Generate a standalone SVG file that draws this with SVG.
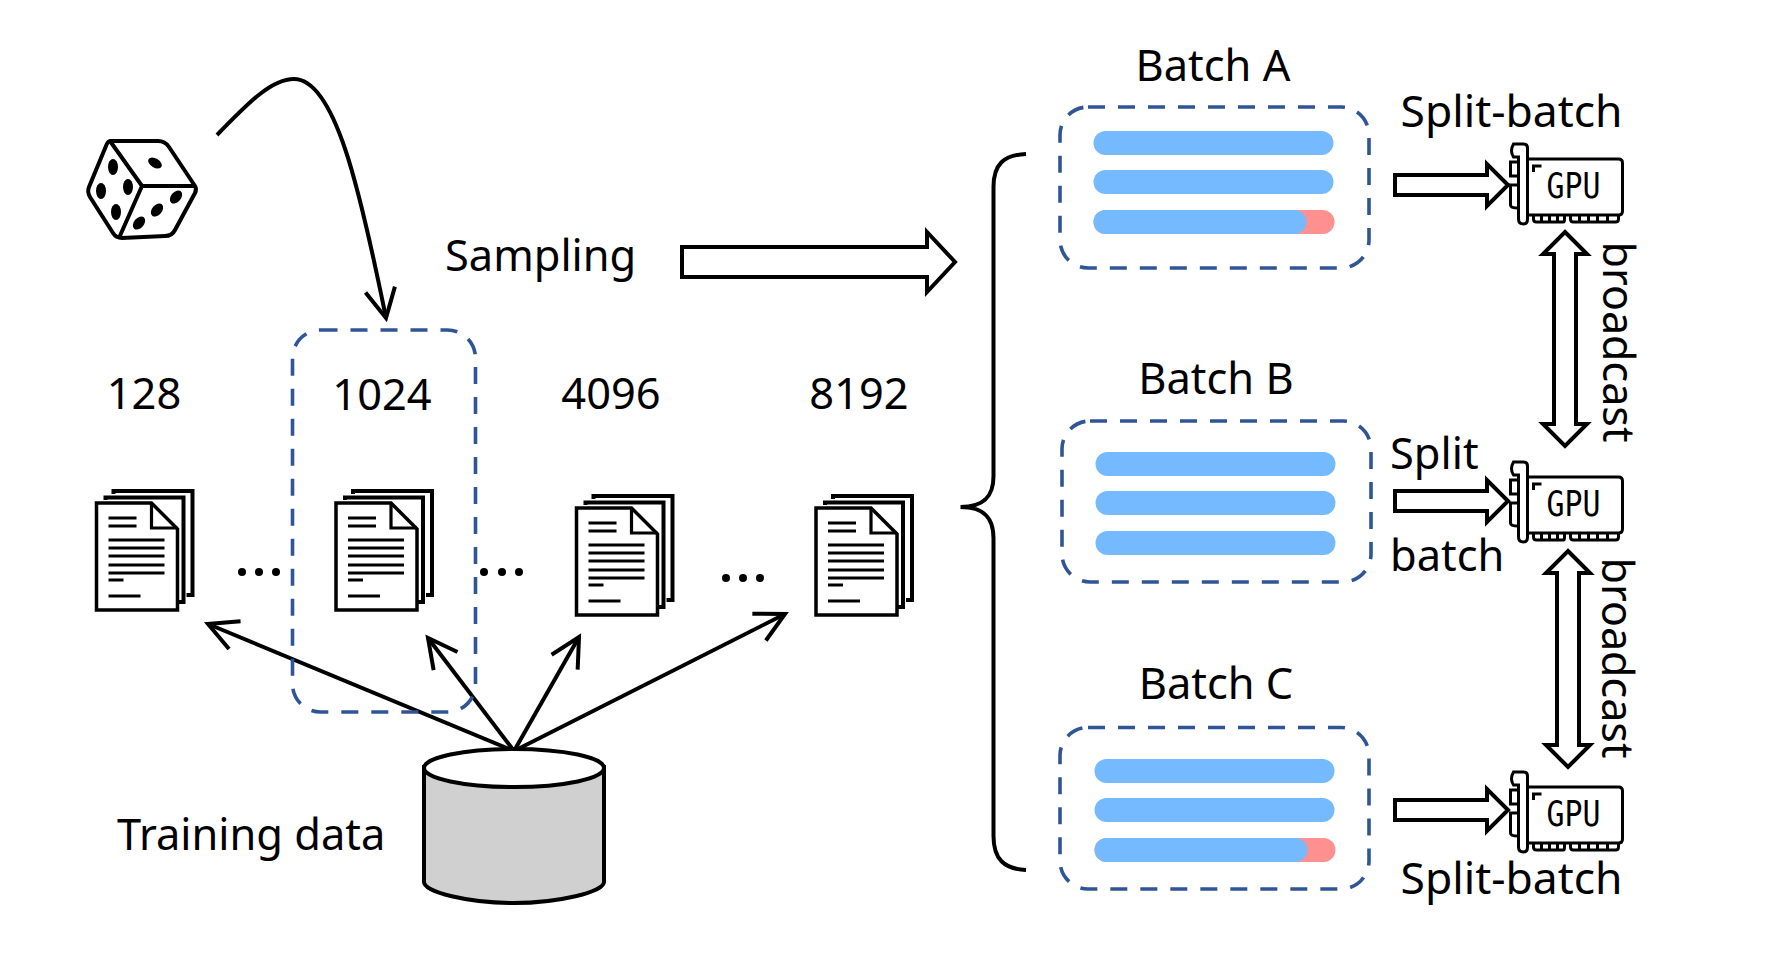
<svg xmlns="http://www.w3.org/2000/svg" xmlns:xlink="http://www.w3.org/1999/xlink" width="1777" height="977" viewBox="0 0 1777 977">
<style>
text{font-family:"Noto Sans","Open Sans","Liberation Sans",sans-serif;font-size:43.4px;fill:#000}
.m{text-anchor:middle}
.sb{font-size:44.4px}
.bc{font-size:43px}
.dash{fill:none;stroke:#2F5597;stroke-width:3.6;stroke-dasharray:17 13}
.l{fill:none;stroke:#000;stroke-width:4}
.ba{fill:#fff;stroke:#000;stroke-width:4;stroke-linejoin:miter}
.blue{fill:#75BAFF}
.red{fill:#FF9090}
.pip{fill:#000}
</style>
<defs>
<marker id="ah" markerUnits="userSpaceOnUse" markerWidth="70" markerHeight="70" refX="35" refY="35" orient="auto" viewBox="0 0 70 70">
<path d="M6,20 L35,35 L6,50" fill="none" stroke="#000" stroke-width="4"/>
</marker>
<g id="doc">
<path class="l" d="M9,-3 V-5.500 H87 V99 H82 M17,-9 V-12 H96 V92 H90" stroke-width="3.5"/>
<path d="M0,0 H55 L81,26 V107 H0 Z" fill="#fff" stroke="#000" stroke-width="3.500"/>
<path fill="none" stroke="#000" stroke-width="3.200" d="M55,0 V25 H81 M12,15 H40 M12,23 H40 M12,37 H68 M12,45 H68 M12,53 H68 M12,62 H68 M12,70 H68 M12,77 H27 M12,93 H44"/>
</g>
<g id="gpu" fill="none" stroke="#000" stroke-width="3">
<path d="M-9,-2 H-14 Q-18,-8 -14,-15 H-4 Q0,-15 0,-11 V60 Q0,65 -4,65 Q-9,65 -9,60 Z"/>
<path d="M-9,3 H-17 V17 H-9 M-9,26 H-17 V46 Q-17,49 -9,49"/>
<path d="M0,0 H91 Q95,0 95,4 V52 Q95,56 91,56 H0"/>
<path d="M6,56 V60 Q6,63 9,63 H36 Q37,63 37,60 V56 M43,56 V60 Q43,63 46,63 H88 Q91,63 91,60 V56 M14,56 V63 M22,56 V63 M30,56 V63 M52,56 V63 M61,56 V63 M70,56 V63 M80,56 V63"/>
<path d="M6,13 V7 H14"/>
<text x="46" y="39" class="m" stroke="none" style="font-family:'DejaVu Sans Mono',monospace;font-size:36px" textLength="54" lengthAdjust="spacingAndGlyphs">GPU</text>
</g>
</defs>

<g id="connectors">
<path class="l" d="M217,135 C250,101 272,79 294,79 C335,79 360,190 386,318" marker-end="url(#ah)"/>
<path class="l" d="M514,751 L208,624" marker-end="url(#ah)"/>
<path class="l" d="M514,751 L428,638" marker-end="url(#ah)"/>
<path class="l" d="M514,751 L579,637" marker-end="url(#ah)"/>
<path class="l" d="M514,751 L785,614" marker-end="url(#ah)"/>
<path class="ba" d="M682,247 H927 V232 L955,262 L927,292 V277 H682 Z"/>
<path class="l" d="M1026,154 C1004,155 993.500,164 993.500,187 V476 C993.500,496 984.500,507 960.500,507 C984.500,507 993.500,518 993.500,538 V836 C993.500,859 1004,869 1026,870"/>
<path class="ba" d="M1395,175 H1487 V164 L1508,185 L1487,206 V195 H1395 Z"/>
<path class="ba" d="M1395,491 H1487 V480 L1508,501 L1487,522 V511 H1395 Z"/>
<path class="ba" d="M1395,800 H1487 V789 L1508,810 L1487,831 V820 H1395 Z"/>
<path class="ba" d="M1565,232 L1587,254 H1576 V424 H1587 L1565,446 L1543,424 H1554 V254 H1543 Z"/>
<path class="ba" d="M1568,551 L1590,573 H1579 V745 H1590 L1568,767 L1546,745 H1557 V573 H1546 Z"/>
</g>

<g id="dice">
<path d="M110,141 H158 Q165,141 169,147 L195,186 Q197,189 195,193 L175,230 Q172,236 165,236 L122,238 Q116,238 113,233 L90,197 Q87,192 89,187 L106,146 Q108,141 110,141 Z" fill="#fff" stroke="#000" stroke-width="4"/>
<path class="l" d="M110,141 L142,186 H196 M142,186 L119,238"/>
<ellipse class="pip" cx="113" cy="167" rx="5" ry="8"/>
<ellipse class="pip" cx="128" cy="187" rx="5" ry="8"/>
<ellipse class="pip" cx="101" cy="191" rx="5" ry="8"/>
<ellipse class="pip" cx="116" cy="212" rx="5" ry="8"/>
<ellipse class="pip" cx="155" cy="163" rx="7.5" ry="4.500" transform="rotate(30 155 163)"/>
<ellipse class="pip" cx="176" cy="197" rx="7.5" ry="5" transform="rotate(-50 176 197)"/>
<ellipse class="pip" cx="157" cy="210" rx="7.5" ry="5" transform="rotate(-50 157 210)"/>
<ellipse class="pip" cx="139" cy="223" rx="7.5" ry="5" transform="rotate(-50 139 223)"/>
</g>

<g id="sampling-label"><text x="445" y="271">Sampling</text></g>

<g id="sample-128"><text class="m" x="144" y="409">128</text><use href="#doc" xlink:href="#doc" x="96.500" y="503"/></g>
<g id="sample-1024"><rect class="dash" x="292.500" y="330" width="183" height="382" rx="28"/><text class="m" x="382" y="410">1024</text><use href="#doc" xlink:href="#doc" x="336" y="503"/></g>
<g id="sample-4096"><text class="m" x="611" y="409">4096</text><use href="#doc" xlink:href="#doc" x="576.500" y="508"/></g>
<g id="sample-8192"><text class="m" x="859" y="409">8192</text><use href="#doc" xlink:href="#doc" x="816" y="508"/></g>

<g id="ellipsis-1"><circle cx="242" cy="572" r="4"/><circle cx="259" cy="572" r="4"/><circle cx="276" cy="572" r="4"/></g>
<g id="ellipsis-2"><circle cx="484" cy="572" r="4"/><circle cx="502" cy="572" r="4"/><circle cx="519" cy="572" r="4"/></g>
<g id="ellipsis-3"><circle cx="726" cy="578" r="4"/><circle cx="743" cy="578" r="4"/><circle cx="760" cy="578" r="4"/></g>

<g id="training-data">
<path d="M424,767 V882 C424,892 468,903 514,903 C558,903 604,892 604,882 V767 Z" fill="#D0D0D0" stroke="#000" stroke-width="4"/>
<ellipse cx="514" cy="768" rx="90" ry="19" fill="#fff" stroke="#000" stroke-width="4"/>
<text x="117" y="850">Training data</text>
</g>

<g id="batch-a">
<text class="m" x="1213" y="81">Batch A</text>
<rect class="dash" x="1060" y="107" width="309" height="161" rx="28"/>
<rect class="blue" x="1093.500" y="131" width="240" height="24" rx="12"/>
<rect class="blue" x="1093.500" y="170" width="240" height="24" rx="12"/>
<rect class="red" x="1093.500" y="210" width="241" height="24" rx="12"/>
<rect class="blue" x="1093.500" y="210" width="213" height="24" rx="12"/>
</g>
<g id="batch-b">
<text class="m" x="1216" y="394">Batch B</text>
<rect class="dash" x="1062" y="421" width="309" height="161" rx="28"/>
<rect class="blue" x="1095.500" y="452" width="240" height="24" rx="12"/>
<rect class="blue" x="1095.500" y="491" width="240" height="24" rx="12"/>
<rect class="blue" x="1095.500" y="531" width="240" height="24" rx="12"/>
</g>
<g id="batch-c">
<text class="m" x="1216" y="699">Batch C</text>
<rect class="dash" x="1060" y="727.500" width="309" height="161.500" rx="28"/>
<rect class="blue" x="1094.500" y="759" width="240" height="24" rx="12"/>
<rect class="blue" x="1094.500" y="798" width="240" height="24" rx="12"/>
<rect class="red" x="1094.500" y="838" width="241" height="24" rx="12"/>
<rect class="blue" x="1094.500" y="838" width="213" height="24" rx="12"/>
</g>

<g id="gpu-a"><use href="#gpu" xlink:href="#gpu" x="1527.500" y="159"/></g>
<g id="gpu-b"><use href="#gpu" xlink:href="#gpu" x="1527.500" y="477"/></g>
<g id="gpu-c"><use href="#gpu" xlink:href="#gpu" x="1527.500" y="787"/></g>

<g id="labels">
<text class="m sb" x="1511.500" y="127">Split-batch</text>
<text x="1390" y="469">Split</text>
<text x="1390" y="571">batch</text>
<text class="m sb" x="1511.500" y="894">Split-batch</text>
<text class="m bc" transform="translate(1603,342) rotate(90)">broadcast</text>
<text class="m bc" transform="translate(1602,658) rotate(90)">broadcast</text>
</g>
</svg>
